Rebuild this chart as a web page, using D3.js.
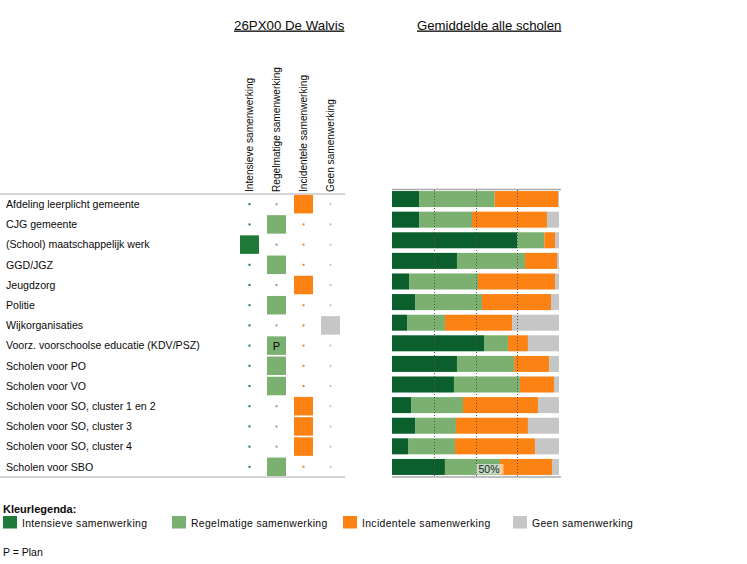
<!DOCTYPE html>
<html><head><meta charset="utf-8">
<script src="https://cdn.jsdelivr.net/npm/d3@7"></script>
<style>
html,body{margin:0;padding:0;background:#fff;}
svg{display:block;font-family:"Liberation Sans",Arial,sans-serif;}
</style></head>
<body><svg id="c" width="747" height="564"></svg>
<script>
const categories = ["Afdeling leerplicht gemeente","CJG gemeente","(School) maatschappelijk werk","GGD/JGZ","Jeugdzorg","Politie","Wijkorganisaties","Voorz. voorschoolse educatie (KDV/PSZ)","Scholen voor PO","Scholen voor VO","Scholen voor SO, cluster 1 en 2","Scholen voor SO, cluster 3","Scholen voor SO, cluster 4","Scholen voor SBO"];
const levels = ["Intensieve samenwerking","Regelmatige samenwerking","Incidentele samenwerking","Geen samenwerking"];
// School (26PX00 De Walvis): chosen level index per category, and plan flag
const schoolLevel = [2,1,0,1,2,1,3,1,1,1,2,2,2,1];
const schoolPlan  = [0,0,0,0,0,0,0,1,0,0,0,0,0,0];
// Average of all schools (percentages)
const intensief   = [16.2,16.2,75.0,38.9,10.2,13.8, 9.0,55.1,38.9,37.1,11.4,13.8, 9.6,31.7];
const regelmatig  = [45.3,31.7,16.2,40.7,41.3,40.1,22.7,14.4,34.2,39.5,31.1,24.5,28.1,33.0];
const incidenteel = [37.9,44.9, 6.4,19.2,46.1,41.3,40.2,11.9,20.9,20.4,44.9,43.1,47.9,31.1];
const geen        = [ 0.6, 7.2, 2.4, 1.2, 2.4, 4.8,28.1,18.6, 6.0, 3.0,12.6,18.6,14.4, 4.2];
const gridTicks = [25,50,75];
const markLabel = "50%";

const barColors = ["#0b5f2c","#7bb070","#fd8214","#c6c6c6"];
const cellColors = ["#1e7a36","#7bb070","#fd8214","#c6c6c6"];
const txt = "#0a0a0a";

const svg = d3.select("#c");

// Titles
svg.append("text").attr("x",234).attr("y",29.5).attr("font-size","13.3px").attr("fill",txt)
  .attr("text-decoration","underline").text("26PX00 De Walvis");
svg.append("text").attr("x",417).attr("y",29.5).attr("font-size","13.2px").attr("fill",txt)
  .attr("text-decoration","underline").text("Gemiddelde alle scholen");

// ---------- Left table ----------
const yL = d3.scaleBand().domain(categories).range([194,477]).paddingInner(0.084).paddingOuter(0.047);
const xC = d3.scaleBand().domain(levels).range([236,344]).paddingInner(0.296).paddingOuter(0.148);

// column headers
svg.selectAll("text.colh").data(levels).join("text").attr("class","colh")
  .attr("transform",d=>`translate(${xC(d)+xC.bandwidth()/2+3.6},192) rotate(-90)`)
  .attr("font-size","10.15px").attr("fill",txt).text(d=>d);

svg.append("line").attr("x1",0).attr("x2",345).attr("y1",194).attr("y2",194).attr("stroke","#aaa");
svg.append("line").attr("x1",0).attr("x2",345).attr("y1",477).attr("y2",477).attr("stroke","#aaa");

// row labels
svg.selectAll("text.rowl").data(categories).join("text").attr("class","rowl")
  .attr("x",6).attr("y",d=>yL(d)+yL.bandwidth()/2+3.8)
  .attr("font-size","10.6px").attr("fill",txt).text(d=>d);

const cells = [];
categories.forEach((c,i)=>levels.forEach((l,j)=>cells.push({c,l,j,on:schoolLevel[i]===j,plan:schoolPlan[i]&&schoolLevel[i]===j})));
svg.selectAll("rect.cell").data(cells).join("rect").attr("class","cell")
  .attr("x",d=>d.on? xC(d.l) : xC(d.l)+xC.bandwidth()/2-1)
  .attr("y",d=>d.on? yL(d.c) : yL(d.c)+yL.bandwidth()/2-1)
  .attr("width",d=>d.on? xC.bandwidth():2)
  .attr("height",d=>d.on? yL.bandwidth():2)
  .attr("fill",d=>cellColors[d.j]);
svg.selectAll("text.plan").data(cells.filter(d=>d.plan)).join("text").attr("class","plan")
  .attr("x",d=>xC(d.l)+xC.bandwidth()/2).attr("y",d=>yL(d.c)+yL.bandwidth()/2+4)
  .attr("text-anchor","middle").attr("font-size","11px").attr("fill","#000").text("P");

// ---------- Right stacked bars ----------
const x = d3.scaleLinear().domain([0,100]).range([392,559]);
const yR = d3.scaleBand().domain(categories).range([189,477]).paddingInner(0.223).paddingOuter(0.10);
const table = categories.map((c,i)=>({cat:c,[levels[0]]:intensief[i],[levels[1]]:regelmatig[i],[levels[2]]:incidenteel[i],[levels[3]]:geen[i]}));
const stacked = d3.stack().keys(levels)(table);

svg.append("g").selectAll("g").data(stacked).join("g").attr("fill",(d,i)=>barColors[i])
  .selectAll("rect").data(d=>d).join("rect")
  .attr("x",d=>x(d[0])).attr("width",d=>x(d[1])-x(d[0]))
  .attr("y",d=>yR(d.data.cat)).attr("height",yR.bandwidth());

svg.append("line").attr("x1",392).attr("x2",561).attr("y1",189.5).attr("y2",189.5).attr("stroke","#aaa").attr("stroke-width",1.5);
svg.append("line").attr("x1",392).attr("x2",561).attr("y1",477).attr("y2",477).attr("stroke","#aaa").attr("stroke-width",1.5);

svg.selectAll("line.grid").data(gridTicks).join("line").attr("class","grid")
  .attr("x1",d=>Math.round(x(d))+0.5).attr("x2",d=>Math.round(x(d))+0.5)
  .attr("y1",190).attr("y2",477).attr("stroke","#555").attr("stroke-dasharray","1,2");

// 50% marker label
const mx = x(50);
svg.append("rect").attr("x",mx+1).attr("y",464).attr("width",27).attr("height",10.5)
  .attr("fill","#fff").attr("fill-opacity",0.55);
svg.append("text").attr("x",mx+3).attr("y",473).attr("font-size","10.5px").attr("fill","#1a1a2a").text(markLabel);

// ---------- Legend ----------
svg.append("text").attr("x",3).attr("y",513).attr("font-size","11px").attr("font-weight","bold").attr("fill",txt).text("Kleurlegenda:");
const legX = [3,172,343,513];
const lg = svg.selectAll("g.leg").data(levels).join("g").attr("class","leg")
  .attr("transform",(d,i)=>`translate(${legX[i]},516)`);
lg.append("rect").attr("width",14).attr("height",12.5).attr("fill",(d,i)=>cellColors[i]);
lg.append("text").attr("x",19).attr("y",11).attr("font-size","10.4px").attr("letter-spacing","0.35px").attr("fill",txt).text(d=>d);
svg.append("text").attr("x",3).attr("y",555.5).attr("font-size","10.5px").attr("fill",txt).text("P = Plan");
</script>
</body></html>
